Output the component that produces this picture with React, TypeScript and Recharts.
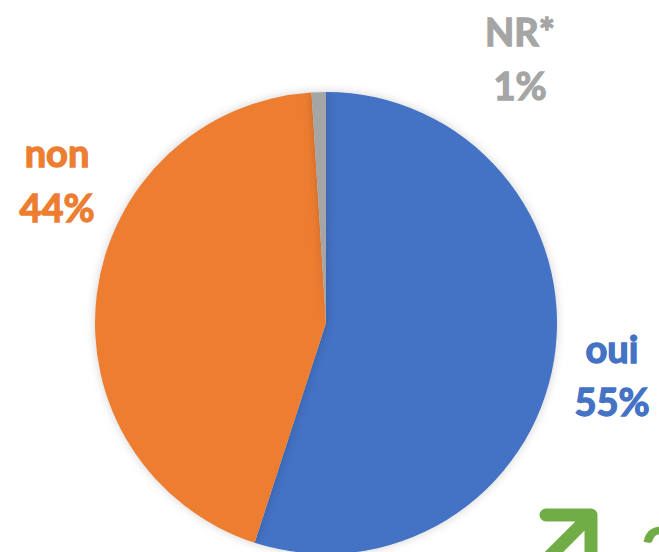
import { PieChart, Pie, Cell } from "recharts"

const categories = ["oui", "non", "NR*"]
const values = [55, 44, 1]
const percentLabels = ["55%", "44%", "1%"]
const colors = ["#4472C4", "#ED7D31", "#A5A5A5"]

// where each label sits (name line baseline, percent line baseline)
const labelPos = [
  { x: 612, y1: 363, y2: 416 },
  { x: 57, y1: 167, y2: 222 },
  { x: 520, y1: 46, y2: 100 },
]

const data = categories.map((name, i) => ({
  name,
  value: values[i],
  pct: percentLabels[i],
}))

function renderLabel(props: any) {
  const { index } = props
  const pos = labelPos[index]
  const style = {
    fill: colors[index],
    stroke: colors[index],
    strokeWidth: 1.3,
    fontFamily: "Lato, sans-serif",
    fontWeight: 700,
    fontSize: 38,
  }
  return (
    <g>
      <text x={pos.x} y={pos.y1} textAnchor="middle" style={style}>
        {categories[index]}
      </text>
      <text x={pos.x} y={pos.y2} textAnchor="middle" style={style}>
        {percentLabels[index]}
      </text>
    </g>
  )
}

export default function App() {
  return (
    <div
      style={{
        position: "absolute",
        left: 0,
        top: 0,
        width: 659,
        height: 552,
        background: "#fff",
        overflow: "hidden",
      }}
    >
      <style>{`.recharts-pie-sector { filter: drop-shadow(0 0 5px rgba(0,0,0,0.18)); }`}</style>
      <PieChart width={659} height={552} margin={{ top: 0, right: 0, bottom: 0, left: 0 }}>
        <Pie
          data={data}
          dataKey="value"
          nameKey="name"
          cx={326}
          cy={323}
          outerRadius={231}
          startAngle={90}
          endAngle={-270}
          stroke="none"
          label={renderLabel}
          labelLine={false}
          isAnimationActive={false}
        >
          {data.map((d, i) => (
            <Cell key={d.name} fill={colors[i]} />
          ))}
        </Pie>
        <g>
          <path
            d="M546 515 L591 515 L591 560 M591 515 L538 568"
            stroke="#70AD47"
            strokeWidth={13}
            fill="none"
            strokeLinejoin="round"
            strokeLinecap="round"
          />
          <text
            x={640}
            y={580}
            fill="#70AD47"
            fontFamily="Lato, sans-serif"
            fontWeight={700}
            fontSize={72}
          >
            2
          </text>
        </g>
      </PieChart>
    </div>
  )
}
